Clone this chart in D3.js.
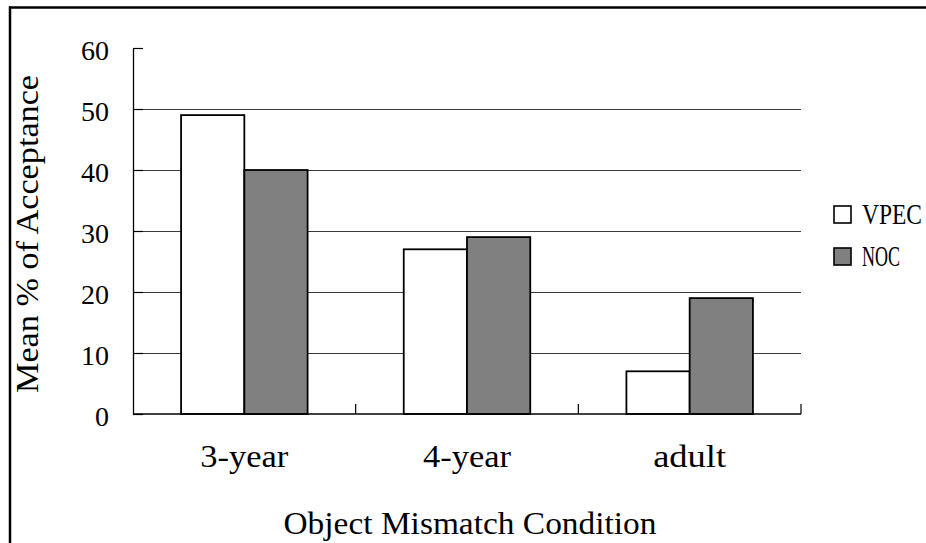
<!DOCTYPE html>
<html>
<head>
<meta charset="utf-8">
<script src="https://cdn.jsdelivr.net/npm/d3@7"></script>
<style>
  html, body { margin: 0; padding: 0; background: #fff; }
  svg { display: block; }
  .serif { font-family: "Liberation Serif", "Times New Roman", "DejaVu Serif", serif; }
</style>
</head>
<body>
<svg id="chart" width="926" height="543"></svg>
<script>
// Mean % of acceptance by age group and condition
const categories = ["3-year", "4-year", "adult"];
const seriesNames = ["VPEC", "NOC"];
const vpecValues = [49, 27, 7];
const nocValues = [40, 29, 19];
const yTicks = [0, 10, 20, 30, 40, 50, 60];
const yTitle = "Mean % of Acceptance";
const xTitle = "Object Mismatch Condition";

const seriesFill = { VPEC: "#ffffff", NOC: "#808080" };
const rows = categories.map((c, i) => ({ cat: c, VPEC: vpecValues[i], NOC: nocValues[i] }));

const svg = d3.select("#chart");
const plot = { left: 133, right: 801, top: 48, bottom: 414 };

// frame lines (top and left)
svg.append("line").attr("x1", 9).attr("x2", 926).attr("y1", 7.5).attr("y2", 7.5)
  .attr("stroke", "#000").attr("stroke-width", 2.5);
svg.append("line").attr("x1", 10).attr("x2", 10).attr("y1", 6.5).attr("y2", 543)
  .attr("stroke", "#000").attr("stroke-width", 2.5);

const x0 = d3.scaleBand().domain(categories).range([plot.left, plot.right]).paddingInner(0).paddingOuter(0);
const x1 = d3.scaleBand().domain(seriesNames).range([0, x0.bandwidth()]).paddingInner(0).paddingOuter(0.76);
const y = d3.scaleLinear().domain([0, 60]).range([plot.bottom, plot.top]);

// horizontal gridlines
svg.append("g")
  .selectAll("line")
  .data(yTicks.filter(t => t > 0 && t < 60))
  .join("line")
  .attr("x1", plot.left).attr("x2", plot.right)
  .attr("y1", d => Math.round(y(d)) + 0.5).attr("y2", d => Math.round(y(d)) + 0.5)
  .attr("stroke", "#3a3a3a").attr("stroke-width", 1.2);

// bars
const groups = svg.append("g")
  .selectAll("g")
  .data(rows)
  .join("g")
  .attr("transform", d => `translate(${x0(d.cat)},0)`);

groups.selectAll("rect")
  .data(d => seriesNames.map(s => ({ s, v: d[s] })))
  .join("rect")
  .attr("x", d => x1(d.s))
  .attr("y", d => y(d.v))
  .attr("width", x1.bandwidth())
  .attr("height", d => y(0) - y(d.v))
  .attr("fill", d => seriesFill[d.s])
  .attr("stroke", "#000")
  .attr("stroke-width", 1.8);

// y axis with inward ticks
const yAxis = svg.append("g")
  .attr("transform", `translate(${plot.left},0)`)
  .call(d3.axisLeft(y).tickValues(yTicks).tickSize(-10).tickPadding(24).tickSizeOuter(0));
yAxis.attr("font-family", null).attr("font-size", null);
yAxis.select(".domain").attr("stroke", "#000").attr("stroke-width", 1.3);
yAxis.selectAll(".tick line").attr("stroke", "#000").attr("stroke-width", 1.2);
yAxis.selectAll(".tick text")
  .attr("class", "serif")
  .style("font-size", "28px").attr("fill", "#000")
  .attr("dy", "0.40em");

// x axis with inward ticks at category boundaries
const xAxisG = svg.append("g");
xAxisG.append("line")
  .attr("x1", plot.left).attr("x2", plot.right)
  .attr("y1", plot.bottom).attr("y2", plot.bottom)
  .attr("stroke", "#000").attr("stroke-width", 1.5);
xAxisG.selectAll("line.tk")
  .data(categories)
  .join("line")
  .attr("class", "tk")
  .attr("x1", d => x0(d) + x0.bandwidth()).attr("x2", d => x0(d) + x0.bandwidth())
  .attr("y1", plot.bottom).attr("y2", plot.bottom - 10)
  .attr("stroke", "#000").attr("stroke-width", 1.2);

// category labels
const catWidth = { "3-year": 88, "4-year": 88, "adult": 73 };
svg.append("g")
  .selectAll("text")
  .data(categories)
  .join("text")
  .attr("class", "serif")
  .attr("x", d => x0(d) + x0.bandwidth() / 2)
  .attr("y", 467)
  .attr("text-anchor", "middle")
  .style("font-size", "31px")
  .attr("textLength", d => catWidth[d]).attr("lengthAdjust", "spacingAndGlyphs")
  .text(d => d);

// axis titles
svg.append("text")
  .attr("class", "serif")
  .attr("x", (plot.left + plot.right) / 2 + 3)
  .attr("y", 534)
  .attr("text-anchor", "middle")
  .style("font-size", "31px")
  .attr("textLength", 373).attr("lengthAdjust", "spacingAndGlyphs")
  .text(xTitle);

svg.append("text")
  .attr("class", "serif")
  .attr("transform", "translate(38,234) rotate(-90)")
  .attr("text-anchor", "middle")
  .style("font-size", "31px")
  .attr("textLength", 318).attr("lengthAdjust", "spacingAndGlyphs")
  .text(yTitle);

// legend: condensed serif labels, squeezed horizontally to their set widths
const legendWidth = { VPEC: 60, NOC: 38 };
const legend = svg.append("g")
  .selectAll("g")
  .data(seriesNames)
  .join("g")
  .attr("transform", (d, i) => `translate(834,${206 + i * 42})`);
legend.append("rect")
  .attr("width", 17).attr("height", 17)
  .attr("fill", d => seriesFill[d])
  .attr("stroke", "#000").attr("stroke-width", 1.6);
legend.append("text")
  .attr("class", "serif")
  .style("font-size", "30px")
  .text(d => d)
  .attr("transform", function (d) {
    const w = this.getComputedTextLength();
    return `translate(28,18) scale(${legendWidth[d] / w},1)`;
  });
</script>
</body>
</html>
